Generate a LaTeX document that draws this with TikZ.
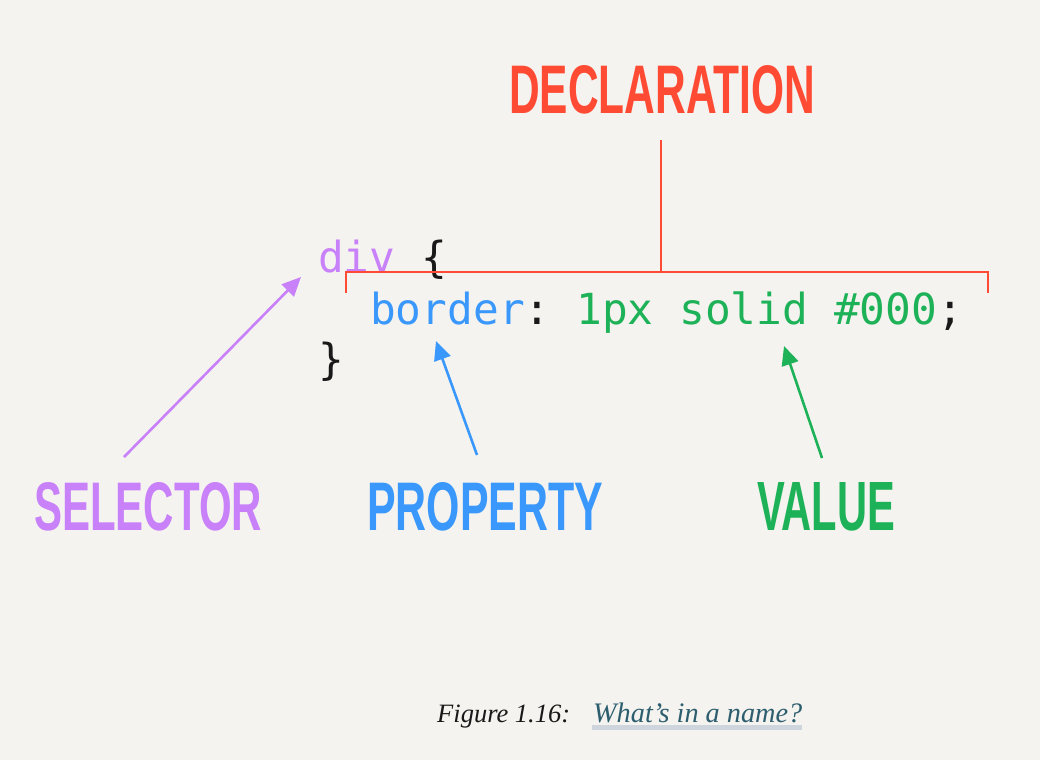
\documentclass[tikz,border=0pt]{standalone}
\usepackage{fontspec}
\usepackage{graphicx}
\setmainfont{Liberation Serif}
\setsansfont{Liberation Sans}
\setmonofont{DejaVu Sans Mono}
\usetikzlibrary{arrows.meta}
\definecolor{bg}{RGB}{244,243,239}
\definecolor{cpurple}{RGB}{201,129,250}
\definecolor{cblue}{RGB}{58,152,252}
\definecolor{cgreen}{RGB}{30,178,88}
\definecolor{cred}{RGB}{255,75,52}
\definecolor{cteal}{RGB}{45,94,110}
\definecolor{cunder}{RGB}{206,213,221}
\definecolor{cblack}{RGB}{25,25,25}
\tikzset{
  codeline/.style={anchor=base west, inner sep=0pt, font=\ttfamily\fontsize{42.8}{42.8}\selectfont},
  biglabel/.style={anchor=base west, inner sep=0pt},
  pointer/.style={line width=2.6pt, -{Triangle[length=19pt,width=17pt]}},
  bracketline/.style={draw=cred, line width=2.5pt},
}
\newcommand{\biglbl}[2]{\resizebox{#1}{48pt}{\sffamily\bfseries #2}}
\begin{document}
\begin{tikzpicture}[x=1pt,y=-1pt]
\fill[bg] (0,0) rectangle (1040,760);
\useasboundingbox (0,0) rectangle (1040,760);

% code
\node[codeline] (l1) at (318,272) {\textcolor{cpurple}{div} \textcolor{cblack}{\{}};
\node[codeline] (l2) at (370,324) {\textcolor{cblue}{border}\textcolor{cblack}{:} \textcolor{cgreen}{1px solid \#000}\textcolor{cblack}{;}};
\node[codeline] (l3) at (318,374) {\textcolor{cblack}{\}}};

% labels
\node[biglabel, text=cred] (decl) at (509,113) {\biglbl{306pt}{DECLARATION}};
\node[biglabel, text=cpurple] (sel) at (34,530) {\biglbl{228pt}{SELECTOR}};
\node[biglabel, text=cblue] (prop) at (367,530) {\biglbl{236pt}{PROPERTY}};
\node[biglabel, text=cgreen] (val) at (757,530) {\biglbl{138pt}{VALUE}};

% bracket
\coordinate (bl) at (346,293);
\coordinate (blt) at (346,272);
\coordinate (brt) at (988,272);
\coordinate (br) at (988,293);
\coordinate (stemtop) at (661,140);
\coordinate (stembot) at (661,272);
\draw[bracketline] (bl) -- (blt) -- (brt) -- (br);
\draw[bracketline] (stemtop) -- (stembot);

% arrows
\coordinate (selTail) at (124,457);
\coordinate (selHead) at (301,277);
\coordinate (propTail) at (477,455);
\coordinate (propHead) at (436,341);
\coordinate (valTail) at (822,458);
\coordinate (valHead) at (784,346);
\draw[pointer, draw=cpurple, fill=cpurple] (selTail) -- (selHead);
\draw[pointer, draw=cblue, fill=cblue] (propTail) -- (propHead);
\draw[pointer, draw=cgreen, fill=cgreen] (valTail) -- (valHead);

% caption
\fill[cunder] (592,725) rectangle (802,729.5);
\node[anchor=base west, inner sep=0pt, text=cblack] (fig) at (437,722) {\resizebox{133pt}{!}{\itshape Figure 1.16:}};
\node[anchor=base west, inner sep=0pt, text=cteal] (cap) at (593,722) {\resizebox{209pt}{!}{\itshape What’s in a name?}};
\end{tikzpicture}
\end{document}
